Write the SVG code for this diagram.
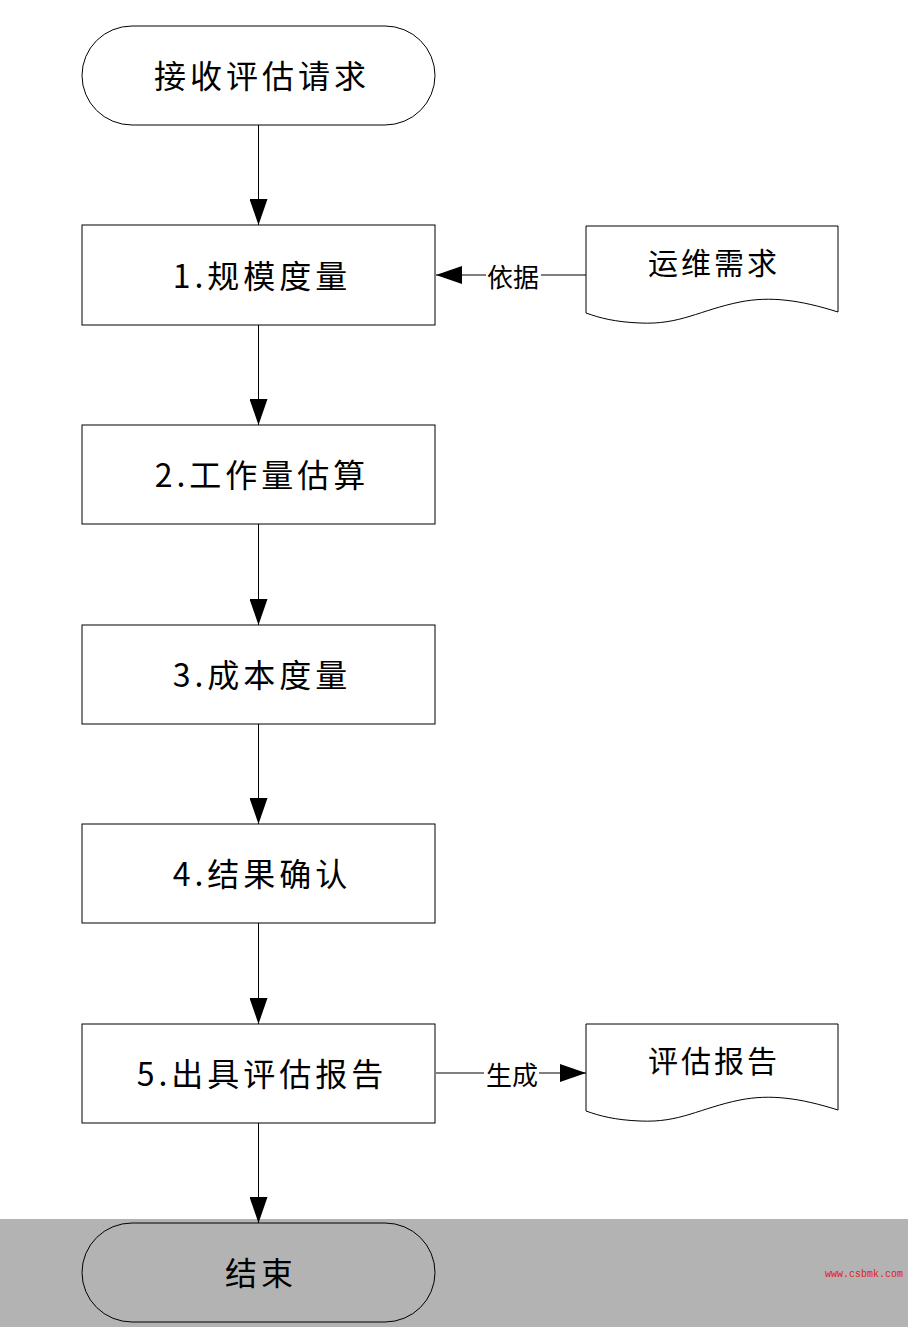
<svg xmlns="http://www.w3.org/2000/svg" width="908" height="1332" viewBox="0 0 908 1332">
<style>
.shape{fill:#fff;stroke:#000;stroke-width:1}
.t{font-family:"Noto Sans CJK SC","Noto Sans",sans-serif;font-size:32px;fill:#000;text-anchor:middle;dominant-baseline:central;letter-spacing:4px}
.d{font-family:"Noto Sans CJK SC","Noto Sans",sans-serif;font-size:30px;fill:#000;text-anchor:middle;dominant-baseline:central;letter-spacing:3px}
.lbl{font-family:"Noto Sans CJK SC","Noto Sans",sans-serif;font-size:26px;fill:#000;text-anchor:middle;dominant-baseline:central}
.ln{stroke:#000;stroke-width:1;fill:none}
</style>
<defs>
<marker id="ah" viewBox="0 0 26 18" refX="26" refY="9" markerWidth="26" markerHeight="18" markerUnits="userSpaceOnUse" orient="auto">
<path d="M0,0 L26,9 L0,18 Z" fill="#000"/>
</marker>
</defs>
<rect x="0" y="0" width="908" height="1332" fill="#fff"/>
<rect x="0" y="1219" width="908" height="108" fill="#b3b3b3"/>
<g id="connectors">
<line class="ln" x1="258.5" y1="125" x2="258.5" y2="225" marker-end="url(#ah)"/>
<line class="ln" x1="258.5" y1="325" x2="258.5" y2="425" marker-end="url(#ah)"/>
<line class="ln" x1="258.5" y1="524" x2="258.5" y2="625" marker-end="url(#ah)"/>
<line class="ln" x1="258.5" y1="724" x2="258.5" y2="824" marker-end="url(#ah)"/>
<line class="ln" x1="258.5" y1="923" x2="258.5" y2="1024" marker-end="url(#ah)"/>
<line class="ln" x1="258.5" y1="1123" x2="258.5" y2="1223" marker-end="url(#ah)"/>
<line class="ln" x1="586" y1="275" x2="436" y2="275" marker-end="url(#ah)"/>
<rect x="486" y="260" width="55" height="30" fill="#fff"/>
<text class="lbl" x="513" y="275">依据</text>
<line class="ln" x1="436" y1="1073" x2="586" y2="1073" marker-end="url(#ah)"/>
<rect x="484" y="1058" width="55" height="30" fill="#fff"/>
<text class="lbl" x="512" y="1073">生成</text>
</g>
<g id="start">
<rect class="shape" x="82" y="26" width="353" height="99" rx="50" ry="50"/>
<text class="t" x="262" y="74">接收评估请求</text>
</g>
<g id="step1">
<rect class="shape" x="82" y="225" width="353" height="100"/>
<text class="t" x="262" y="274">1.规模度量</text>
</g>
<g id="step2">
<rect class="shape" x="82" y="425" width="353" height="99"/>
<text class="t" x="262" y="473">2.工作量估算</text>
</g>
<g id="step3">
<rect class="shape" x="82" y="625" width="353" height="99"/>
<text class="t" x="262" y="673">3.成本度量</text>
</g>
<g id="step4">
<rect class="shape" x="82" y="824" width="353" height="99"/>
<text class="t" x="262" y="872">4.结果确认</text>
</g>
<g id="step5">
<rect class="shape" x="82" y="1024" width="353" height="99"/>
<text class="t" x="262" y="1072">5.出具评估报告</text>
</g>
<g id="end">
<rect x="82" y="1223" width="353" height="99" rx="50" ry="50" fill="none" stroke="#000" stroke-width="1"/>
<text class="t" x="261" y="1271">结束</text>
</g>
<g id="doc1">
<path class="shape" d="M586,226 L838,226 L838,312 C800,300 770,296 740,302 C700,310 680,325 640,323 C615,322 600,318 586,313 Z"/>
<text class="d" x="714" y="261">运维需求</text>
</g>
<g id="doc2">
<path class="shape" d="M586,1024 L838,1024 L838,1110 C800,1098 770,1094 740,1100 C700,1108 680,1123 640,1121 C615,1120 600,1116 586,1111 Z"/>
<text class="d" x="714" y="1059">评估报告</text>
</g>
<text x="864" y="1274" font-family="Liberation Mono,monospace" font-size="10" fill="#e02020" text-anchor="middle" dominant-baseline="central">www.csbmk.com</text>
</svg>
